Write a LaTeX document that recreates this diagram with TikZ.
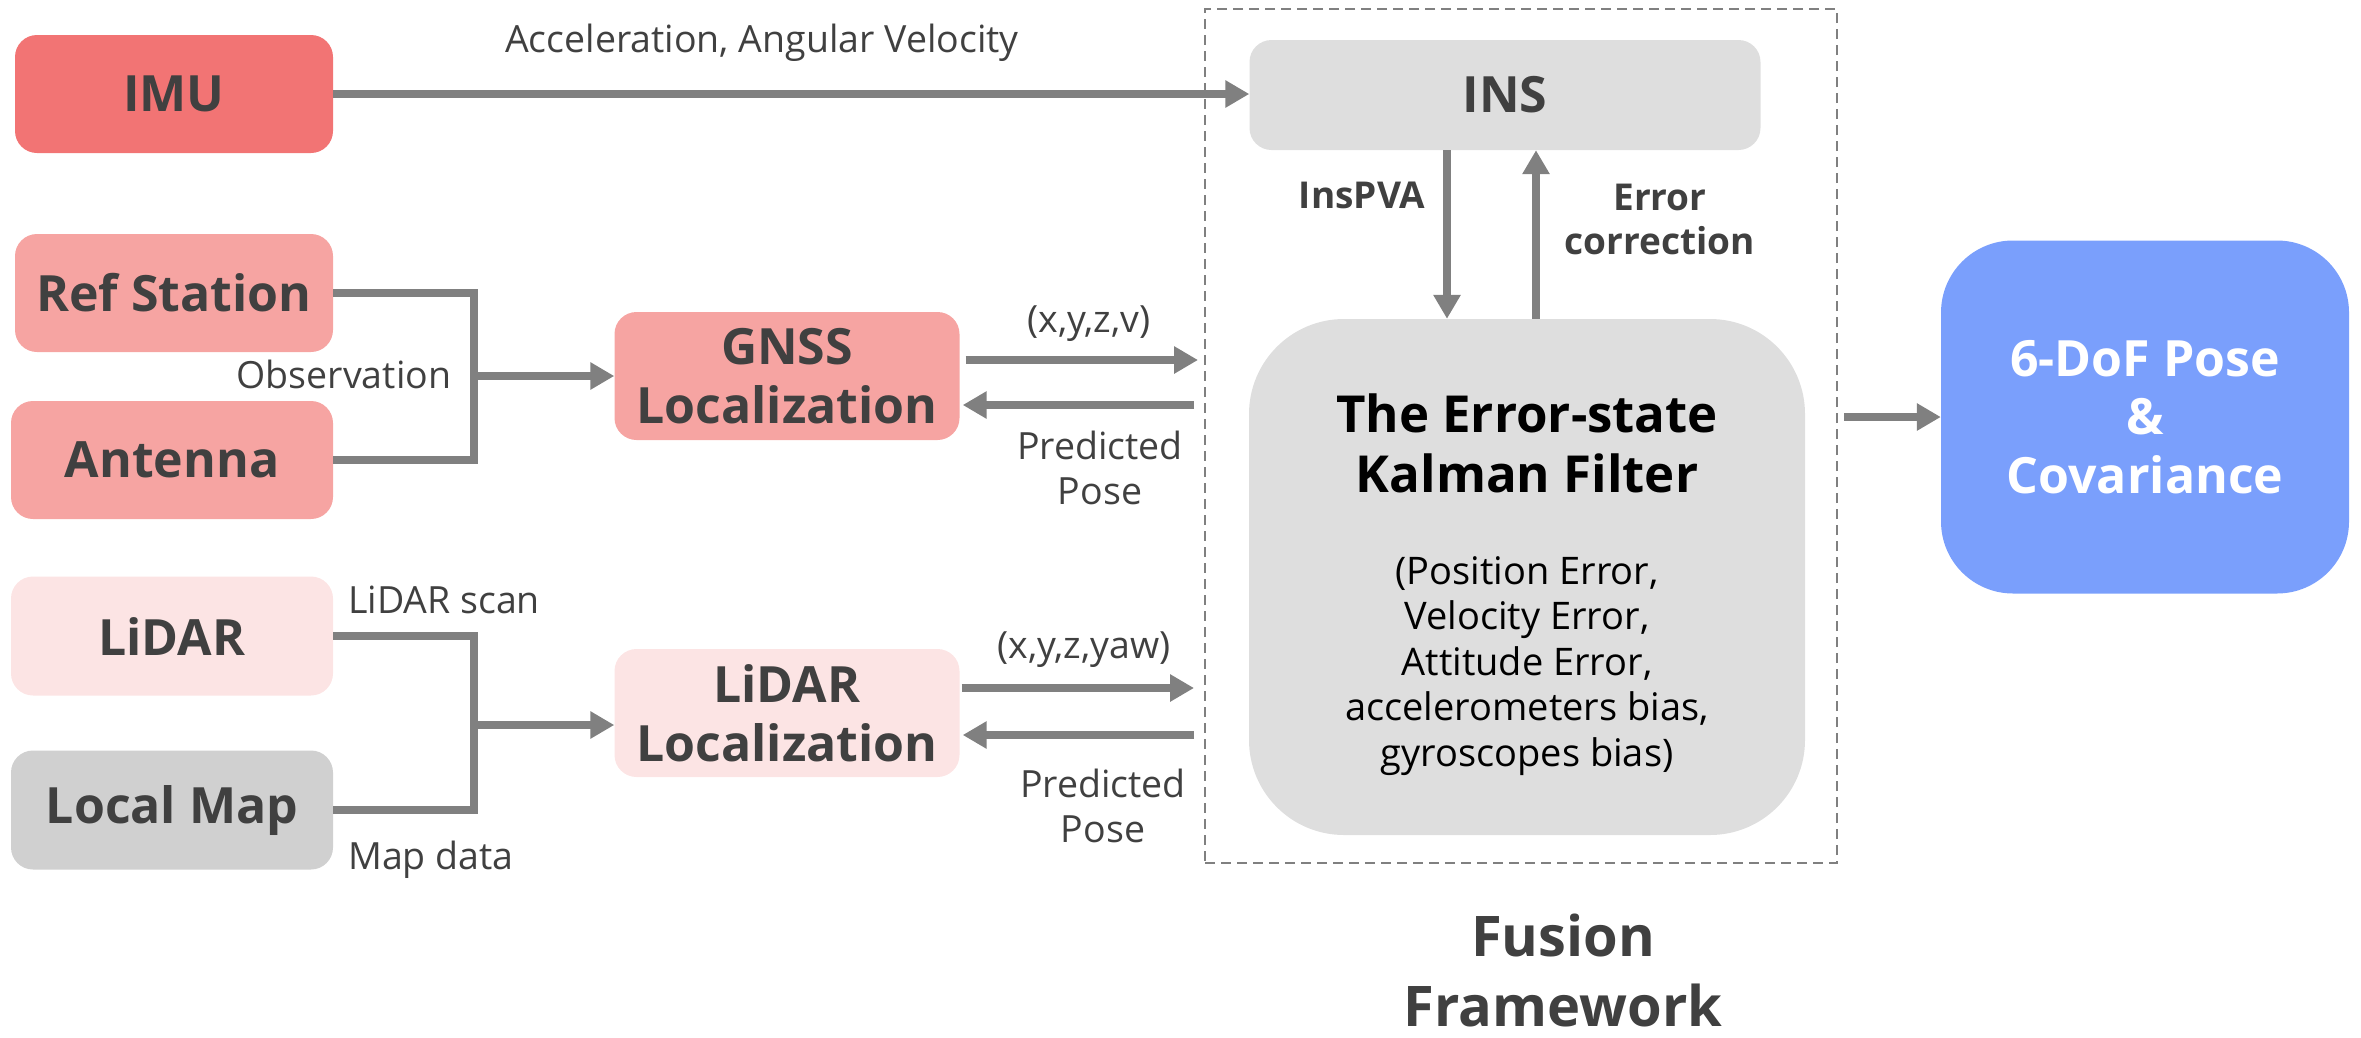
\documentclass[tikz,border=0pt]{standalone}
\usepackage{fontspec}
\setmainfont{Open Sans}
\usetikzlibrary{arrows.meta}
\definecolor{txtgray}{HTML}{404040}
\definecolor{arrgray}{HTML}{808080}
\definecolor{imured}{HTML}{F27474}
\definecolor{gnsspink}{HTML}{F6A4A2}
\definecolor{lidarpink}{HTML}{FCE4E4}
\definecolor{mapgray}{HTML}{D0D0D0}
\definecolor{fusegray}{HTML}{DEDEDE}
\definecolor{poseblue}{HTML}{7A9FFC}
\tikzset{
  box/.style={rectangle, rounded corners=22pt, inner sep=0pt, align=center,
    text=txtgray, font=\bfseries\fontsize{50}{59}\selectfont},
  lbl/.style={text=txtgray, font=\fontsize{37.5}{45}\selectfont, align=center, inner sep=0pt},
  blbl/.style={text=txtgray, font=\bfseries\fontsize{37}{44}\selectfont, align=center, inner sep=0pt},
  link/.style={draw=arrgray, line width=8pt, line join=miter},
  flow/.style={link, -{Triangle[length=24pt,width=26pt]}},
  frame/.style={draw=arrgray, line width=2pt, dash pattern=on 10pt off 6pt, inner sep=0pt}
}
\begin{document}
\begin{tikzpicture}[x=1pt,y=-1pt]
\useasboundingbox (0,0) rectangle (2361,1037);

% fusion framework frame
\node[frame, minimum width=632pt, minimum height=854pt] (fw) at (1521,436) {};
\node[text=txtgray, font=\bfseries\fontsize{56}{70}\selectfont, align=center, inner sep=0pt]
  (fwtitle) at (1563,970) {Fusion\\Framework};

% sensor boxes
\node[box, fill=imured, minimum width=318pt, minimum height=118pt] (imu) at (174,94) {IMU};
\node[box, fill=gnsspink, minimum width=318pt, minimum height=118pt] (ref) at (174,293) {Ref Station};
\node[box, fill=gnsspink, minimum width=322pt, minimum height=118pt] (ant) at (172,460) {Antenna};
\node[box, fill=lidarpink, minimum width=322pt, minimum height=119pt] (lidar) at (172,636) {LiDAR};
\node[box, fill=mapgray, minimum width=322pt, minimum height=119pt] (map) at (172,810) {Local Map};

% localization boxes
\node[box, fill=gnsspink, minimum width=345pt, minimum height=128pt] (gnss) at (787,376) {GNSS\\Localization};
\node[box, fill=lidarpink, minimum width=345pt, minimum height=128pt] (lloc) at (787,713) {LiDAR\\Localization};

% fusion core
\node[box, fill=fusegray, minimum width=511pt, minimum height=110pt] (ins) at (1505,95) {INS};
\node[box, fill=fusegray, rounded corners=95pt, minimum width=556pt, minimum height=516pt] (ekf) at (1527,577) {};
\node[text=black, font=\bfseries\fontsize{51}{60}\selectfont, align=center, inner sep=0pt]
  (ekftitle) at (1527,443) {The Error-state\\Kalman Filter};
\node[text=black, font=\fontsize{38}{45.5}\selectfont, align=center, inner sep=0pt]
  (ekfbody) at (1527,666) {(Position Error,\\Velocity Error,\\Attitude Error,\\accelerometers bias,\\gyroscopes bias)};

% output
\node[box, fill=poseblue, text=white, rounded corners=72pt, minimum width=408pt, minimum height=353pt,
  font=\bfseries\fontsize{50}{58.5}\selectfont] (pose) at (2145,417) {6-DoF Pose\\\&\\Covariance};

% IMU to INS
\draw[flow] (imu.east) -- (imu.east -| ins.west);
\node[lbl] (acclbl) at (762,43) {Acceleration, Angular Velocity};

% GNSS branch
\coordinate (jg) at (474,376);
\draw[link] (ref.east) -| (jg) |- (ant.east);
\draw[flow] (jg) -- (jg -| gnss.west);
\node[lbl] (obslbl) at (344,374) {Observation};

\coordinate (gout) at (1198,360);
\coordinate (gin) at (1194,405);
\draw[flow] ([xshift=6pt]gnss.east |- gout) -- (gout);
\draw[flow] (gin) -- ([xshift=3pt]gnss.east |- gin);
\node[lbl] (gxyz) at (1089,324) {(x,y,z,v)};
\node[lbl] (gpred) at (1100,468) {Predicted\\Pose};

% LiDAR branch
\coordinate (jl) at (474,725);
\draw[link] (lidar.east) -| (jl) |- (map.east);
\draw[flow] (jl) -- (jl -| lloc.west);
\node[lbl, anchor=west] (scanlbl) at (348,600) {LiDAR scan};
\node[lbl, anchor=west] (maplbl) at (348,860) {Map data};

\coordinate (lout) at (1194,688);
\coordinate (lin) at (1194,735);
\draw[flow] ([xshift=2pt]lloc.east |- lout) -- (lout);
\draw[flow] (lin) -- ([xshift=3pt]lloc.east |- lin);
\node[lbl] (lxyz) at (1084,650) {(x,y,z,yaw)};
\node[lbl] (lpred) at (1103,806) {Predicted\\Pose};

% INS <-> filter
\draw[flow] ([xshift=-58pt]ins.south) -- ([xshift=-58pt]ins.south |- ekf.north);
\draw[flow] ([xshift=31pt]ins.south |- ekf.north) -- ([xshift=31pt]ins.south);
\node[blbl] (pvalbl) at (1362,195) {InsPVA};
\node[blbl] (corrlbl) at (1660,219) {Error\\correction};

% filter to output
\draw[flow] ([xshift=6pt]fw.east |- pose.west) -- (pose.west);
\end{tikzpicture}
\end{document}
